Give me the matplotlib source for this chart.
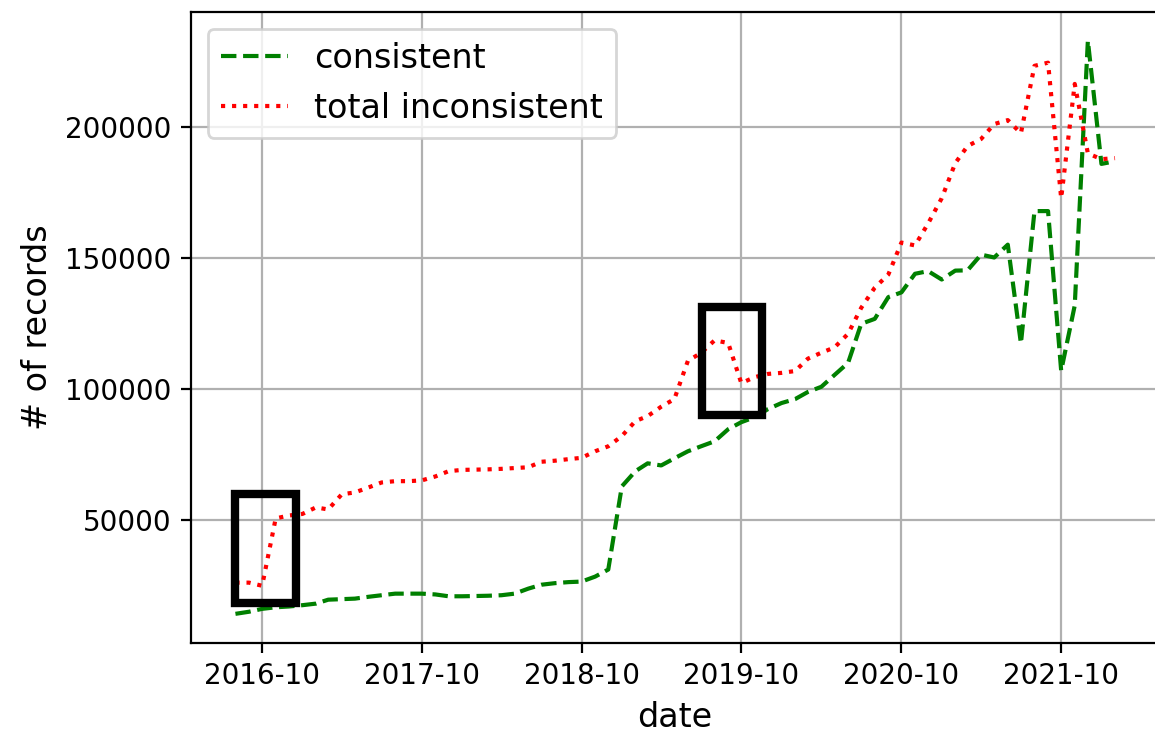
import matplotlib
matplotlib.use("Agg")
import matplotlib.pyplot as plt
import matplotlib.dates as mdates
from matplotlib.patches import Rectangle
import pandas as pd

dates = pd.date_range("2016-08-01", "2022-02-01", freq="MS")

consistent = [
    14400, 15200, 16300, 16900, 17200,
    17700, 18300, 19800, 20000, 20200, 20900, 21500, 22100, 22100, 22100, 21800, 21100,
    21100, 21200, 21300, 21500, 22100, 24000, 25500, 26100, 26500, 26700, 28600, 31300,
    63000, 68800, 71800, 71000, 73700, 76400, 78300, 80200, 84800, 87500, 89400, 92500,
    94800, 96300, 99000, 101000, 105500, 110100, 125000, 126900, 135200, 137000, 144100, 145100,
    141900, 145300, 145400, 151400, 150300, 155200, 117500, 168000, 168000, 107100, 132000, 233000,
    186000, 187000,
]

total_inconsistent = [
    26300, 26300, 25100, 50800, 51900,
    52500, 55000, 54200, 60000, 60700, 62600, 64500, 65000, 65000, 65300, 66800, 68800,
    69300, 69400, 69500, 69700, 70000, 70300, 72400, 72800, 73400, 73900, 76400, 78300,
    82200, 87900, 89800, 93400, 96300, 110900, 113900, 118700, 117700, 102400, 104700, 105900,
    106300, 107000, 111700, 114000, 116000, 121200, 131100, 138800, 143800, 156000, 154900, 163300,
    172900, 186300, 192800, 195500, 201200, 202700, 197700, 223400, 224600, 172900, 216500, 190000,
    187800, 188200,
]

# highlighted regions: (start date, end date, y low, y high)
boxes = [
    ("2016-07-31", "2016-12-17", 18500, 60000),
    ("2019-07-03", "2019-11-18", 90400, 131400),
]

fig = plt.figure(figsize=(5.775, 3.655), dpi=200)
ax = fig.add_axes([191 / 1155, (731 - 642.5) / 731, (1159 - 191) / 1155, (642.5 - 12) / 731])

ax.plot(dates, consistent, color="green", linestyle="--", label="consistent")
ax.plot(dates, total_inconsistent, color="red", linestyle=":", label="total inconsistent")

for x0, x1, y0, y1 in boxes:
    d0 = mdates.date2num(pd.Timestamp(x0))
    d1 = mdates.date2num(pd.Timestamp(x1))
    ax.add_patch(Rectangle((d0, y0), d1 - d0, y1 - y0, fill=False,
                           edgecolor="black", linewidth=3, zorder=5))

ax.xaxis.set_major_locator(mdates.YearLocator(base=1, month=10, day=1))
ax.xaxis.set_major_formatter(mdates.DateFormatter("%Y-%m"))
ax.grid(True)
ax.set_xlabel("date", fontsize=12)
ax.set_ylabel("# of records", fontsize=12)
ax.legend(loc="upper left", fontsize=12)

fig.savefig("out.png", dpi=200)
